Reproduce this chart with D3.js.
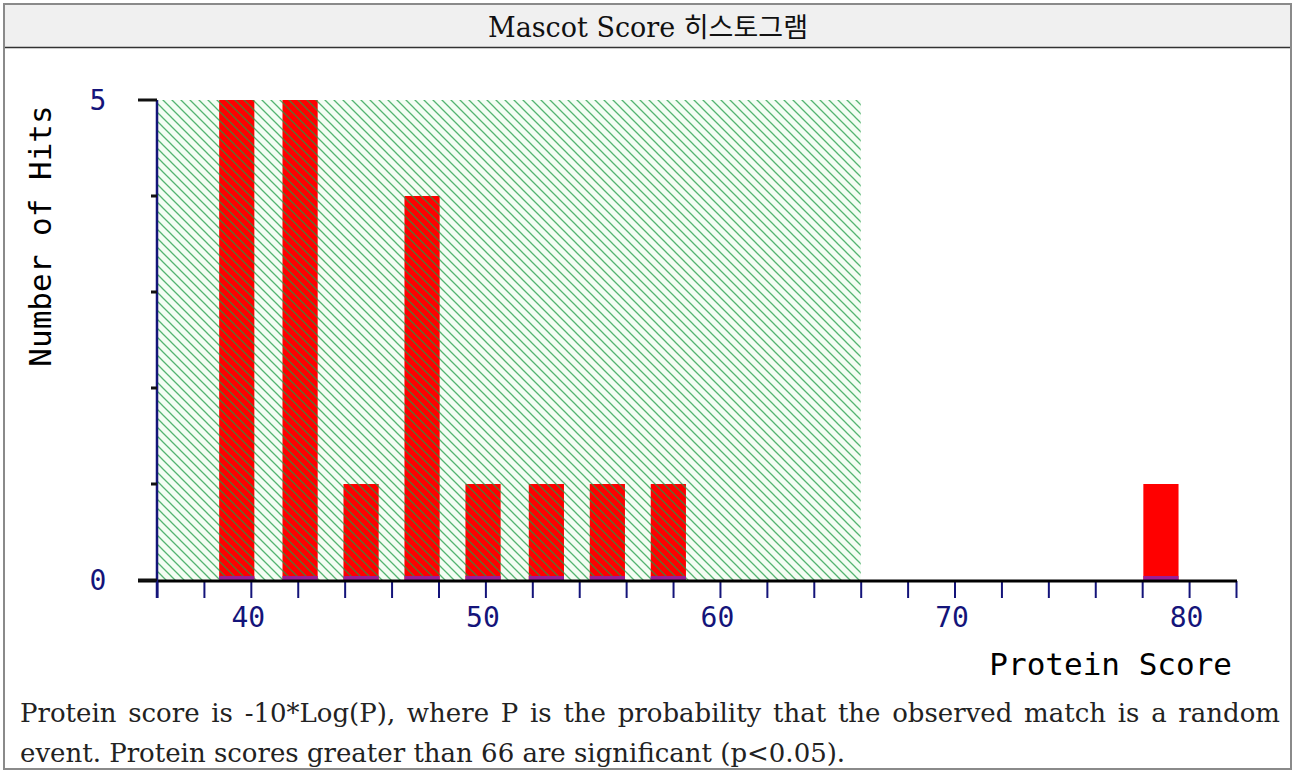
<!DOCTYPE html>
<html>
<head>
<meta charset="utf-8">
<script src="https://cdn.jsdelivr.net/npm/d3@7"></script>
<style>
  body { margin: 0; background: #fff; }
  svg { display: block; }
</style>
</head>
<body>
<svg id="chart" width="1295" height="771"></svg>
<script>
// histogram bins (score centres) and hit counts
const binCenters = [39.4, 42.1, 44.7, 47.3, 49.9, 52.6, 55.2, 57.8, 60.4, 63.1, 65.7, 68.3, 70.9, 73.6, 76.2, 78.8];
const hitCounts  = [5, 5, 1, 4, 1, 1, 1, 1, 0, 0, 0, 0, 0, 0, 0, 1];
const binWidth = 1.5;

const xTicks = [36, 38, 40, 42, 44, 46, 48, 50, 52, 54, 56, 58, 60, 62, 64, 66, 68, 70, 72, 74, 76, 78, 80, 82];
const xLabels = [40, 50, 60, 70, 80];
const yTicks = [0, 1, 2, 3, 4, 5];
const yLabels = [0, 5];
const threshold = 66;

const titleText = 'Mascot Score 히스토그램';
const noteLines = [
    'Protein score is -10*Log(P), where P is the probability that the observed match is a random',
    'event. Protein scores greater than 66 are significant (p<0.05).'
];

const svg = d3.select('#chart');
const navy = '#14147a';
const mono = '"DejaVu Sans Mono", monospace';
const serif = '"DejaVu Serif", "Noto Sans CJK KR", serif';

// outer frame + title band
svg.append('rect')
    .attr('x', 4).attr('y', 4).attr('width', 1287).attr('height', 765)
    .attr('fill', '#fff').attr('stroke', '#8a8a8a').attr('stroke-width', 2);
svg.append('rect')
    .attr('x', 5).attr('y', 5).attr('width', 1285).attr('height', 42)
    .attr('fill', '#f0f0f0');
svg.append('line')
    .attr('x1', 5).attr('x2', 1290).attr('y1', 47.5).attr('y2', 47.5)
    .attr('stroke', '#333').attr('stroke-width', 1.5);
svg.append('text')
    .attr('x', 648).attr('y', 37)
    .attr('text-anchor', 'middle')
    .style('font-family', serif)
    .style('font-size', '27px')
    .style('fill', '#111')
    .text(titleText);

// scales
const x = d3.scaleLinear().domain([36, 82]).range([157, 1236]);
const y = d3.scaleLinear().domain([0, 5]).range([580, 100]);

// hatch pattern
const defs = svg.append('defs');
const pat = defs.append('pattern')
    .attr('id', 'hatch')
    .attr('patternUnits', 'userSpaceOnUse')
    .attr('width', 9).attr('height', 9);
pat.append('path')
    .attr('d', 'M0,0 L9,9 M-2,7 L2,11 M7,-2 L11,2')
    .attr('stroke', '#1f9a45')
    .attr('stroke-width', 1.3)
    .attr('stroke-opacity', 0.75);

const plot = svg.append('g');

// significance region background
plot.append('rect')
    .attr('x', x(36)).attr('y', y(5))
    .attr('width', x(threshold) - x(36))
    .attr('height', y(0) - y(5))
    .attr('fill', '#f3fdf3');

const bins = binCenters.map((c, i) => ({ center: c, count: hitCounts[i] }))
    .filter(d => d.count > 0);

// bars
plot.selectAll('rect.bar')
    .data(bins)
    .enter()
    .append('rect')
    .attr('class', 'bar')
    .attr('x', d => x(d.center - binWidth / 2))
    .attr('y', d => y(d.count))
    .attr('width', d => x(d.center + binWidth / 2) - x(d.center - binWidth / 2))
    .attr('height', d => y(0) - y(d.count))
    .attr('fill', '#ff0000');

// hatch overlay over the region (covers bars too)
plot.append('rect')
    .attr('x', x(36)).attr('y', y(5))
    .attr('width', x(threshold) - x(36))
    .attr('height', y(0) - y(5))
    .attr('fill', 'url(#hatch)');

// purple strip at bar feet
plot.selectAll('rect.foot')
    .data(bins)
    .enter()
    .append('rect')
    .attr('class', 'foot')
    .attr('x', d => x(d.center - binWidth / 2))
    .attr('y', y(0) - 4)
    .attr('width', d => x(d.center + binWidth / 2) - x(d.center - binWidth / 2))
    .attr('height', 4)
    .attr('fill', '#9a1e96');

// x axis
const xAxis = svg.append('g')
    .attr('transform', `translate(0,${y(0) + 1})`)
    .call(d3.axisBottom(x)
        .tickValues(xTicks)
        .tickSize(17)
        .tickPadding(9)
        .tickFormat(d => xLabels.includes(d) ? d : ''));
xAxis.select('.domain').remove();
xAxis.selectAll('.tick line').attr('stroke', navy).attr('stroke-width', 2);
xAxis.selectAll('.tick text')
    .attr('dx', '-3')
    .style('font-family', mono)
    .style('font-size', '28px')
    .attr('fill', navy);

svg.append('line')
    .attr('x1', 138).attr('x2', 1237)
    .attr('y1', y(0) + 1).attr('y2', y(0) + 1)
    .attr('stroke', '#000').attr('stroke-width', 3);

// y axis
svg.append('line')
    .attr('x1', x(36)).attr('x2', x(36))
    .attr('y1', y(5)).attr('y2', y(0) + 18)
    .attr('stroke', navy).attr('stroke-width', 2.5);

svg.selectAll('line.ytick')
    .data(yTicks)
    .enter()
    .append('line')
    .attr('class', 'ytick')
    .attr('x1', d => yLabels.includes(d) ? 138 : x(36) - 6)
    .attr('x2', x(36))
    .attr('y1', d => y(d)).attr('y2', d => y(d))
    .attr('stroke', '#111').attr('stroke-width', 3);

svg.selectAll('text.ylab')
    .data(yLabels)
    .enter()
    .append('text')
    .attr('class', 'ylab')
    .attr('x', 98)
    .attr('y', d => y(d))
    .attr('dy', '0.36em')
    .attr('text-anchor', 'middle')
    .style('font-family', mono)
    .style('font-size', '28px')
    .attr('fill', navy)
    .text(d => d);

// axis titles
svg.append('text')
    .attr('x', 1232).attr('y', 675)
    .attr('text-anchor', 'end')
    .style('font-family', mono)
    .style('font-size', '31px')
    .attr('fill', '#000')
    .text('Protein Score');

svg.append('text')
    .attr('transform', 'translate(51,236) rotate(-90)')
    .attr('text-anchor', 'middle')
    .style('font-family', mono)
    .style('font-size', '31px')
    .attr('fill', '#000')
    .text('Number of Hits');

// footnote: first line justified, second left aligned
const left = 20, right = 1280;
noteLines.forEach((line, i) => {
    const t = svg.append('text')
        .attr('y', 722 + i * 40)
        .style('font-family', serif)
        .style('font-size', '26px')
        .attr('fill', '#222');
    if (i === noteLines.length - 1) {
        t.attr('x', left).text(line);
        return;
    }
    const words = line.split(' ');
    const spans = words.map(w => t.append('tspan').text(w));
    const widths = spans.map(s => s.node().getComputedTextLength());
    const gap = (right - left - d3.sum(widths)) / (words.length - 1);
    let cx = left;
    spans.forEach((s, k) => {
        s.attr('x', cx);
        cx += widths[k] + gap;
    });
});
</script>
</body>
</html>
